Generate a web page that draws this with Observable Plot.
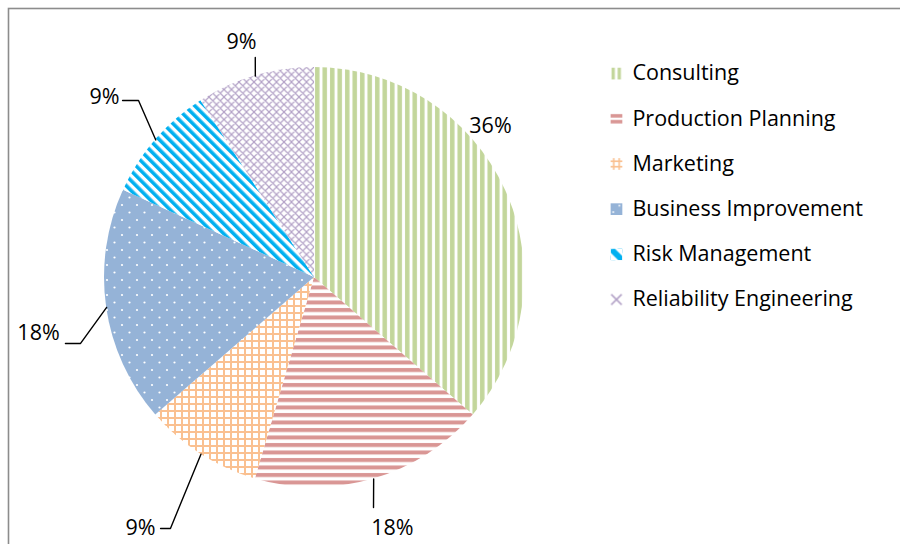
<!DOCTYPE html>
<html>
<head>
<meta charset="utf-8">
<script src="https://cdn.jsdelivr.net/npm/d3@7"></script>
<script src="https://cdn.jsdelivr.net/npm/@observablehq/plot@0.6"></script>
<style>
  html, body { margin: 0; padding: 0; background: #fff; }
  #chart { width: 900px; height: 544px; overflow: hidden; }
</style>
</head>
<body>
<svg width="0" height="0" style="position:absolute">
  <defs>
    <pattern id="pat0" width="7.5" height="7.5" patternUnits="userSpaceOnUse">
      <rect width="7.5" height="7.5" fill="#ffffff"/>
      <rect x="1" width="4.5" height="7.5" fill="#c3d69b"/>
    </pattern>
    <pattern id="pat1" width="7.5" height="7.5" patternUnits="userSpaceOnUse">
      <rect width="7.5" height="7.5" fill="#ffffff"/>
      <rect y="1" width="7.5" height="4" fill="#d99694"/>
    </pattern>
    <pattern id="pat2" width="7" height="7" patternUnits="userSpaceOnUse">
      <rect width="7" height="7" fill="#ffffff"/>
      <rect x="0" width="2" height="7" fill="#fac090"/>
      <rect y="0" width="7" height="2" fill="#fac090"/>
    </pattern>
    <pattern id="pat3" width="15" height="15" patternUnits="userSpaceOnUse">
      <rect width="15" height="15" fill="#95b3d7"/>
      <circle cx="3" cy="3" r="1.1" fill="#ffffff"/>
      <circle cx="10.5" cy="10.5" r="1.1" fill="#ffffff"/>
    </pattern>
    <pattern id="pat4" width="7" height="7" patternUnits="userSpaceOnUse" patternTransform="rotate(-45)">
      <rect width="7" height="7" fill="#ffffff"/>
      <rect x="0" width="3.6" height="7" fill="#00b0f0"/>
    </pattern>
    <pattern id="pat5" width="7.5" height="7.5" patternUnits="userSpaceOnUse">
      <rect width="7.5" height="7.5" fill="#ffffff"/>
      <path d="M0,0L7.5,7.5M7.5,0L0,7.5M-1,6.5L1,8.5M6.5,-1L8.5,1" stroke="#b3a2c7" stroke-width="1.2" fill="none"/>
    </pattern>
    <!-- legend swatch patterns (scaled to the swatch box) -->
    <pattern id="sw0" width="1" height="1" patternUnits="objectBoundingBox" patternContentUnits="objectBoundingBox">
      <rect width="1" height="1" fill="#ffffff"/>
      <rect x="0.08" width="0.28" height="1" fill="#c3d69b"/>
      <rect x="0.6" width="0.28" height="1" fill="#c3d69b"/>
    </pattern>
    <pattern id="sw1" width="1" height="1" patternUnits="objectBoundingBox" patternContentUnits="objectBoundingBox">
      <rect width="1" height="1" fill="#ffffff"/>
      <rect y="0.1" height="0.3" width="1" fill="#d99694"/>
      <rect y="0.6" height="0.3" width="1" fill="#d99694"/>
    </pattern>
    <pattern id="sw2" width="1" height="1" patternUnits="objectBoundingBox" patternContentUnits="objectBoundingBox">
      <rect width="1" height="1" fill="#ffffff"/>
      <rect x="0.2" width="0.14" height="1" fill="#fac090"/>
      <rect x="0.66" width="0.14" height="1" fill="#fac090"/>
      <rect y="0.2" height="0.14" width="1" fill="#fac090"/>
      <rect y="0.66" height="0.14" width="1" fill="#fac090"/>
    </pattern>
    <pattern id="sw3" width="1" height="1" patternUnits="objectBoundingBox" patternContentUnits="objectBoundingBox">
      <rect width="1" height="1" fill="#95b3d7"/>
      <circle cx="0.75" cy="0.2" r="0.08" fill="#ffffff"/>
      <circle cx="0.22" cy="0.75" r="0.08" fill="#ffffff"/>
    </pattern>
    <pattern id="sw4" width="1" height="1" patternUnits="objectBoundingBox" patternContentUnits="objectBoundingBox">
      <rect width="1" height="1" fill="#ffffff"/>
      <path d="M0,0.05L0.35,0L1,0.65L1,1L0.65,1L0,0.35Z" fill="#00b0f0"/>
    </pattern>
    <pattern id="sw5" width="1" height="1" patternUnits="objectBoundingBox" patternContentUnits="objectBoundingBox">
      <rect width="1" height="1" fill="#ffffff"/>
      <path d="M0.05,0.05L0.95,0.95M0.95,0.05L0.05,0.95" stroke="#b3a2c7" stroke-width="0.13" fill="none"/>
    </pattern>
  </defs>
</svg>
<div id="chart"></div>
<script>
// ---- data ----
const categories = ["Consulting", "Production Planning", "Marketing", "Business Improvement", "Risk Management", "Reliability Engineering"];
const values = [4, 2, 1, 2, 1, 1];
const percentLabels = ["36%", "18%", "9%", "18%", "9%", "9%"];
const patternIds = ["pat0", "pat1", "pat2", "pat3", "pat4", "pat5"];
const swatchIds = ["sw0", "sw1", "sw2", "sw3", "sw4", "sw5"];

// ---- label layout (in units of pie radius, x right, y up) ----
const labelX = [0.838, 0.371, -0.829, -1.314, -1.0, -0.348];
const labelY = [0.719, -1.195, -1.195, -0.267, 0.857, 1.119];
const leaderBendsX = [[], [0.281], [-0.686, -0.733], [-1.114, -1.186], [-0.838, -0.914], [-0.282]];
const leaderBendsY = [[], [-1.095], [-1.195, -1.195], [-0.314, -0.314], [0.843, 0.843], [1.048]];
const legendX = 1.514, swatchX = 1.438, legendTop = 0.971, legendStep = 0.2152;

const pieData = d3.pie().sort(null).value(d => d.value)(
  categories.map((c, i) => ({category: c, value: values[i], i}))
);

// leader lines: start at the arc at mid-angle of each slice
const leaders = [];
pieData.forEach((p, i) => {
  if (leaderBendsX[i].length === 0) return;
  const a = (p.startAngle + p.endAngle) / 2;
  leaders.push({i, x: Math.sin(a), y: Math.cos(a)});
  leaderBendsX[i].forEach((bx, k) => leaders.push({i, x: bx, y: leaderBendsY[i][k]}));
});

const labels = percentLabels.map((t, i) => ({t, x: labelX[i], y: labelY[i]}));
const legend = categories.map((c, i) => ({c, fill: `url(#${swatchIds[i]})`, y: legendTop - i * legendStep}));

function pieMark(index, scales) {
  const cx = scales.x(0), cy = scales.y(0);
  const R = scales.x(1) - scales.x(0);
  const arc = d3.arc().innerRadius(0).outerRadius(R);
  const g = d3.create("svg:g").attr("transform", `translate(${cx},${cy})`);
  g.selectAll("path").data(pieData).join("path")
    .attr("d", arc)
    .attr("fill", d => `url(#${patternIds[d.data.i]})`);
  return g.node();
}

const font = "'Open Sans', sans-serif";

const chart = Plot.plot({
  width: 900,
  height: 544,
  margin: 0,
  style: {fontFamily: font, background: "#fff"},
  x: {domain: [-1, 1], range: [104, 524], axis: null},
  y: {domain: [-1, 1], range: [487, 67], axis: null},
  color: {type: "identity"},
  marks: [
    Plot.frame({stroke: "#8c8c8c", strokeWidth: 1.6, insetLeft: 8, insetTop: 8, insetRight: -10, insetBottom: -10}),
    pieMark,
    Plot.line(leaders, {x: "x", y: "y", z: "i", stroke: "#000", strokeWidth: 1.4, curve: "linear"}),
    Plot.text(labels, {x: "x", y: "y", text: "t", fontSize: 21.5, fill: "#000"}),
    Plot.dot(legend, {x: swatchX, y: "y", symbol: "square", r: 6.6, fill: "fill", stroke: null}),
    Plot.text(legend, {x: legendX, y: "y", text: "c", textAnchor: "start", fontSize: 21.5, fill: "#000"})
  ]
});
document.getElementById("chart").appendChild(chart);
</script>
</body>
</html>
